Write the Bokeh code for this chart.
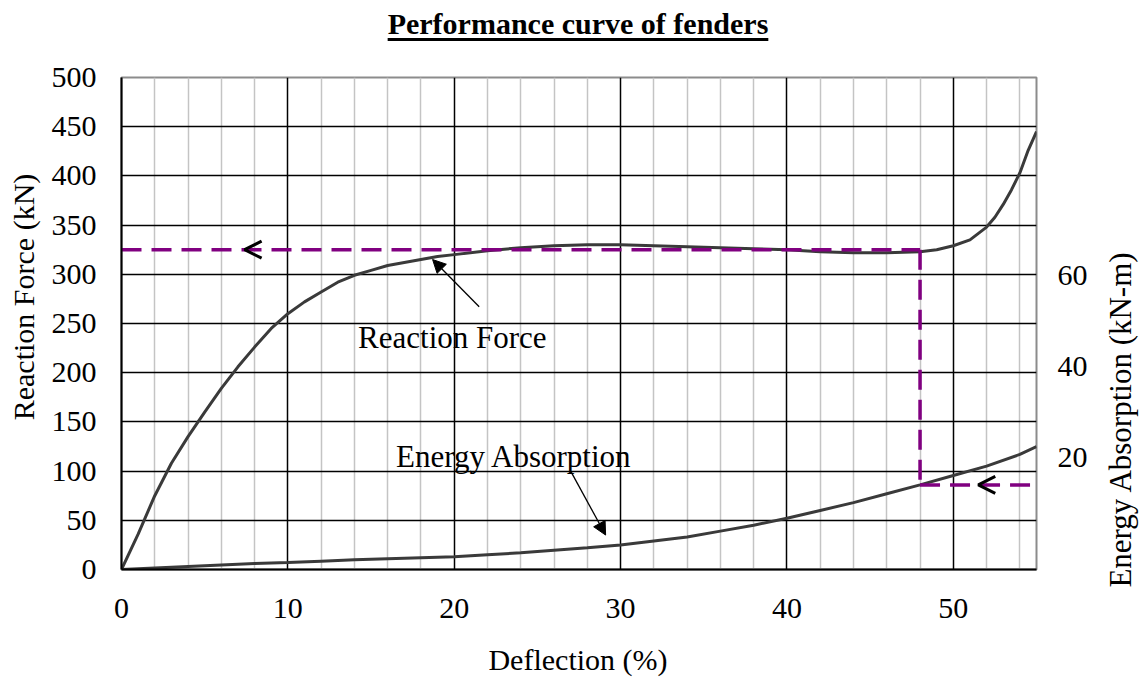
from bokeh.plotting import figure
from bokeh.models import (Range1d, LinearAxis, FixedTicker, Label, Arrow,
                          OpenHead, NormalHead, Div)
from bokeh.layouts import column, row
from bokeh.embed import file_html
from bokeh.resources import INLINE

# ---------------- data ----------------
title_text = "Performance curve of fenders"
x_label = "Deflection (%)"
y_label = "Reaction Force (kN)"
y2_label = "Energy Absorption (kN-m)"

deflection_rf = [0, 1, 2, 3, 4, 5, 6, 7, 8, 9, 10, 11, 12, 13, 14, 15, 16, 17, 18, 19,
                 20, 22, 24, 26, 28, 30, 32, 34, 36, 38, 40, 42, 44, 46, 48, 49, 50,
                 51, 52, 52.5, 53, 53.5, 54, 54.5, 55]
reaction_force = [0, 36, 75, 108, 135, 160, 184, 206, 226, 245, 260, 272, 282, 292, 299,
                  304, 309, 312, 315, 318, 320, 324, 327, 329, 330, 330, 329, 328, 327,
                  326, 325, 323, 322, 322, 323, 325, 329, 335, 348, 358, 371, 386, 403,
                  426, 445]

# energy curve as drawn in the source chart (read against the left-hand gridlines)
deflection_ea = [0, 2, 4, 6, 8, 10, 12, 14, 16, 18, 20, 22, 24, 26, 28, 30, 32, 34, 36,
                 38, 40, 42, 44, 46, 48, 50, 52, 54, 55]
energy_curve = [0, 1.5, 3, 4.5, 6, 7, 8.5, 10, 11, 12, 13, 15, 17, 19.5, 22, 25, 29, 33,
                39, 45, 52, 60, 68, 77, 86, 95.5, 105, 117, 125]

x_ticks = [0, 10, 20, 30, 40, 50]
x_minor = [2, 4, 6, 8, 12, 14, 16, 18, 22, 24, 26, 28, 32, 34, 36, 38, 42, 44, 46, 48,
           52, 54]
y_ticks = [0, 50, 100, 150, 200, 250, 300, 350, 400, 450, 500]
y2_ticks = [20, 40, 60]
y2_range = (-4.4, 103.2)

design_deflection = 48
design_reaction = 325
design_energy_level = 86
chevron_x = [7.4, 51.5]
chevron_y = [325, 86]

FONT = "Liberation Serif"
PURPLE = "#800080"
CURVE = "#3a3a3a"

# ---------------- layout sizes ----------------
TITLE_H = 45
PH = 594          # main figure height
LW, PW, RW = 48, 1042, 50
BOT_H = 41
TOTAL_W = LW + PW + RW

BASE_CSS = ("margin:0; padding:0; font-family:'Liberation Serif'; color:black; "
            "white-space:nowrap;")


def vertical_text_div(text, width, height, cx, cy, size):
    html = ('<div style="position:relative; width:%dpx; height:%dpx; margin:0; '
            'padding:0;"><div style="%s position:absolute; left:%.1fpx; top:%.1fpx; '
            'transform:translate(-50%%,-50%%) rotate(-90deg); font-size:%dpx; '
            'line-height:%dpx;">%s</div></div>'
            % (width, height, BASE_CSS, cx, cy, size, size, text))
    return Div(text=html, width=width, height=height, margin=0)


# ---------------- title (underlined) ----------------
title_div = Div(
    text=('<div style="%s width:1112px; margin-left:22px; text-align:center; '
          'padding-top:5px; font-size:30px; font-weight:bold; line-height:38px; '
          'text-decoration:underline; text-decoration-thickness:3px; '
          'text-underline-offset:4px;">%s</div>' % (BASE_CSS, title_text)),
    width=TOTAL_W, height=TITLE_H, margin=0)

# ---------------- main figure ----------------
p = figure(width=PW, height=PH, x_range=Range1d(0, 55), y_range=Range1d(0, 500),
           output_backend="svg", toolbar_location=None,
           min_border_left=72, min_border_right=54, min_border_top=32,
           min_border_bottom=70, margin=0)
p.background_fill_color = "white"
p.border_fill_color = "white"
p.outline_line_color = "#8c8c8c"
p.outline_line_width = 2

# grids
p.xgrid.ticker = FixedTicker(ticks=[t for t in x_ticks if t != 0], minor_ticks=x_minor)
p.xgrid.grid_line_color = "black"
p.xgrid.grid_line_width = 1.5
p.xgrid.minor_grid_line_color = "#c4c4c4"
p.xgrid.minor_grid_line_width = 1.5
p.ygrid.ticker = FixedTicker(ticks=[t for t in y_ticks if t not in (0, 500)])
p.ygrid.grid_line_color = "black"
p.ygrid.grid_line_width = 1.5

# axes
for ax in (p.xaxis[0], p.yaxis[0]):
    ax.axis_line_color = "black"
    ax.axis_line_width = 2
    ax.major_tick_out = 0
    ax.major_tick_in = 0
    ax.minor_tick_out = 0
    ax.minor_tick_in = 0
    ax.major_label_text_font = FONT
    ax.major_label_text_font_size = "30px"
    ax.major_label_text_color = "black"
p.xaxis[0].ticker = FixedTicker(ticks=x_ticks)
p.xaxis[0].major_label_standoff = 29
p.yaxis[0].ticker = FixedTicker(ticks=y_ticks)
p.yaxis[0].major_label_standoff = 25

p.extra_y_ranges = {"energy": Range1d(*y2_range)}
ax2 = LinearAxis(y_range_name="energy", ticker=FixedTicker(ticks=y2_ticks))
ax2.axis_line_color = None
ax2.major_tick_out = 0
ax2.major_tick_in = 0
ax2.minor_tick_out = 0
ax2.minor_tick_in = 0
ax2.major_label_text_font = FONT
ax2.major_label_text_font_size = "30px"
ax2.major_label_text_color = "black"
ax2.major_label_standoff = 21
p.add_layout(ax2, "right")

# curves
p.line(deflection_rf, reaction_force, line_color=CURVE, line_width=3)
p.line(deflection_ea, energy_curve, line_color=CURVE, line_width=3)

# design lines
dash = "20 10"
p.line([0, design_deflection], [design_reaction, design_reaction],
       line_color=PURPLE, line_width=3.5, line_dash=dash)
p.line([design_deflection, design_deflection], [design_reaction, design_energy_level],
       line_color=PURPLE, line_width=3.5, line_dash=dash)
p.line([design_deflection, 55], [design_energy_level, design_energy_level],
       line_color=PURPLE, line_width=3.5, line_dash=dash)

for cx, cy in zip(chevron_x, chevron_y):
    p.add_layout(Arrow(end=OpenHead(size=17, line_width=3, line_color="black"),
                       x_start=cx + 0.6, y_start=cy, x_end=cx, y_end=cy,
                       line_alpha=0))

# annotation arrows and texts
p.add_layout(Arrow(end=NormalHead(size=13, fill_color="black", line_color="black"),
                   x_start=21.5, y_start=267, x_end=18.7, y_end=315,
                   line_color="black", line_width=1.3))
p.add_layout(Arrow(end=NormalHead(size=13, fill_color="black", line_color="black"),
                   x_start=27.0, y_start=100, x_end=29.1, y_end=35,
                   line_color="black", line_width=1.3))

p.add_layout(Label(x=14.22, y=235.8, text="Reaction Force", text_font=FONT,
                   text_font_size="31px", text_align="left",
                   text_baseline="alphabetic", text_color="black"))
p.add_layout(Label(x=16.5, y=114.8, text="Energy Absorption", text_font=FONT,
                   text_font_size="31px", text_align="left",
                   text_baseline="alphabetic", text_color="black"))

# ---------------- axis titles (HTML strips around the plot) ----------------
left_div = vertical_text_div(y_label, LW, PH, 23.5, 297 - TITLE_H, 30)
right_div = vertical_text_div(y2_label, RW, PH, 29.5, 420 - TITLE_H, 31)

bottom_div = Div(
    text=('<div style="%s width:1112px; margin-left:22px; text-align:center; '
          'padding-top:6px; font-size:30px; line-height:30px;">%s</div>'
          % (BASE_CSS, x_label)),
    width=TOTAL_W, height=BOT_H, margin=0)

layout = column(title_div, row(left_div, p, right_div, spacing=0), bottom_div,
                spacing=0)
open("out.html", "w").write(file_html(layout, INLINE))
